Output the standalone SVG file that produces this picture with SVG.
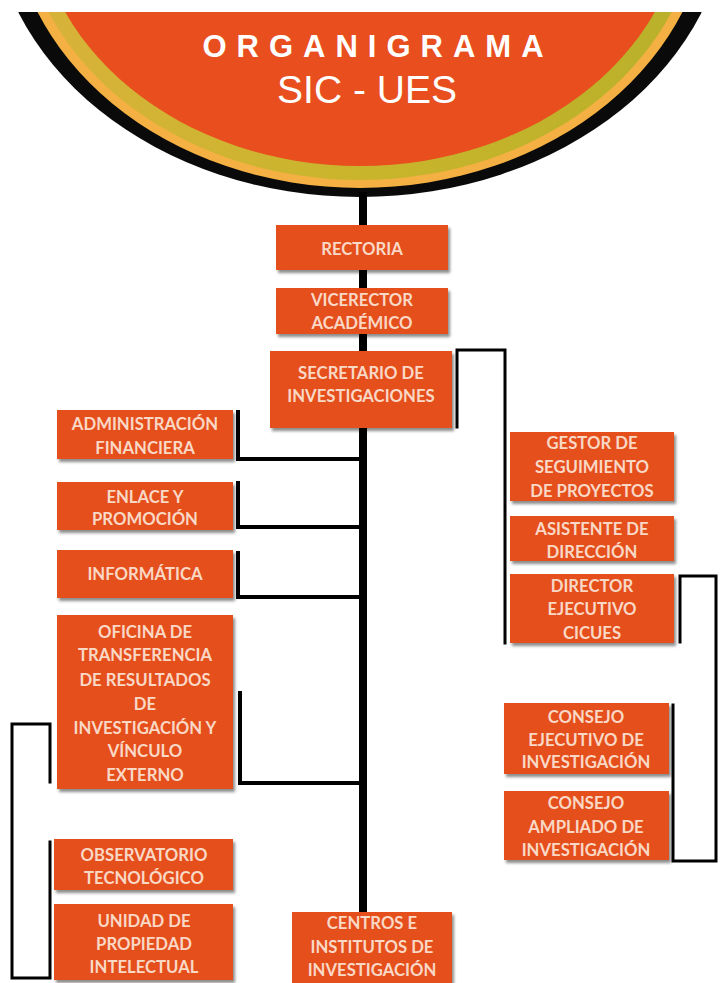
<svg xmlns="http://www.w3.org/2000/svg" width="720" height="983" viewBox="0 0 720 983">
<defs>
<clipPath id="clipTop"><rect x="0" y="12" width="720" height="200"/></clipPath>
<filter id="sh" x="-10%" y="-10%" width="125%" height="130%">
<feDropShadow dx="2" dy="3" stdDeviation="1.6" flood-color="#000" flood-opacity="0.45"/>
</filter>
<linearGradient id="olive" x1="0" y1="0" x2="1" y2="0">
<stop offset="0" stop-color="#D9B23A"/><stop offset="0.5" stop-color="#C9B52C"/><stop offset="1" stop-color="#B9B02A"/>
</linearGradient>
</defs>
<style>
.box{fill:#E5501E;filter:url(#sh)}
.t{font-family:Lato,"Open Sans","Liberation Sans",sans-serif;font-weight:bold;font-size:16.7px;fill:#F9D8C6;text-anchor:middle}
.ln{stroke:#000;fill:none;stroke-linecap:square}
</style>
<rect width="720" height="983" fill="#fff"/>
<g id="header" clip-path="url(#clipTop)">
<ellipse cx="360" cy="-100" rx="369" ry="297" fill="#0a0a0a"/>
<ellipse cx="360" cy="-100" rx="350" ry="288" fill="#F4B042"/>
<ellipse cx="360" cy="-100" rx="340" ry="280" fill="url(#olive)"/>
<ellipse cx="360" cy="-100" rx="325" ry="266" fill="#E84E1E"/>
<text x="378" y="57" font-family="'Liberation Sans',Arial,sans-serif" font-weight="bold" font-size="31" letter-spacing="10" fill="#fff" text-anchor="middle">ORGANIGRAMA</text>
<text x="367" y="103" font-family="'Liberation Sans',Arial,sans-serif" font-size="39" fill="#fff" text-anchor="middle">SIC - UES</text>
</g>
<g id="connectors">
<line class="ln" x1="363" y1="196" x2="363" y2="910" stroke-width="8" stroke-linecap="butt"/>
<polyline class="ln" stroke-width="3" points="457,427 457,350 505,350 505,643"/>
<polyline class="ln" stroke-width="4" points="238,412 238,459 359,459"/>
<polyline class="ln" stroke-width="4" points="238,483 238,527 359,527"/>
<polyline class="ln" stroke-width="4" points="238,553 238,597 359,597"/>
<polyline class="ln" stroke-width="4" points="240,693 240,783 359,783"/>
<polyline class="ln" stroke-width="3" points="50,782 50,724 12,724 12,978 50,978 50,842"/>
<polyline class="ln" stroke-width="3" points="680,642 680,576 716,576 716,861 673,861 673,705"/>
</g>
<g id="rectoria"><rect class="box" x="276" y="225" width="172" height="45"/><text class="t" x="362" y="255" font-size="19">RECTORIA</text></g>
<g id="vicerector"><rect class="box" x="276" y="288" width="172" height="46"/><text class="t" x="362" y="306">VICERECTOR</text><text class="t" x="362" y="329">ACADÉMICO</text></g>
<g id="secretario"><rect class="box" x="270" y="351" width="182" height="77"/><text class="t" x="361" y="379">SECRETARIO DE</text><text class="t" x="361" y="402">INVESTIGACIONES</text></g>
<g id="administracion"><rect class="box" x="57" y="410" width="176" height="49"/><text class="t" x="145" y="430">ADMINISTRACIÓN</text><text class="t" x="145" y="454">FINANCIERA</text></g>
<g id="enlace"><rect class="box" x="57" y="482" width="176" height="48"/><text class="t" x="145" y="503">ENLACE Y</text><text class="t" x="145" y="525">PROMOCIÓN</text></g>
<g id="informatica"><rect class="box" x="57" y="550" width="176" height="48"/><text class="t" x="145" y="580">INFORMÁTICA</text></g>
<g id="oficina"><rect class="box" x="57" y="615" width="176" height="174"/>
<text class="t" x="145" y="638">OFICINA DE</text><text class="t" x="145" y="661">TRANSFERENCIA</text><text class="t" x="145" y="686">DE RESULTADOS</text><text class="t" x="145" y="710">DE</text><text class="t" x="145" y="734">INVESTIGACIÓN Y</text><text class="t" x="145" y="757">VÍNCULO</text><text class="t" x="145" y="781">EXTERNO</text></g>
<g id="observatorio"><rect class="box" x="54" y="839" width="179" height="51"/><text class="t" x="144" y="861">OBSERVATORIO</text><text class="t" x="144" y="884">TECNOLÓGICO</text></g>
<g id="unidad"><rect class="box" x="54" y="904" width="179" height="76"/><text class="t" x="144" y="927">UNIDAD DE</text><text class="t" x="144" y="950">PROPIEDAD</text><text class="t" x="144" y="973">INTELECTUAL</text></g>
<g id="centros"><rect class="box" x="292" y="912" width="160" height="75"/><text class="t" x="372" y="929">CENTROS E</text><text class="t" x="372" y="953">INSTITUTOS DE</text><text class="t" x="372" y="976">INVESTIGACIÓN</text></g>
<g id="gestor"><rect class="box" x="510" y="432" width="164" height="69"/><text class="t" x="592" y="449">GESTOR DE</text><text class="t" x="592" y="473">SEGUIMIENTO</text><text class="t" x="592" y="497">DE PROYECTOS</text></g>
<g id="asistente"><rect class="box" x="510" y="516" width="164" height="45"/><text class="t" x="592" y="535">ASISTENTE DE</text><text class="t" x="592" y="558">DIRECCIÓN</text></g>
<g id="director"><rect class="box" x="510" y="574" width="164" height="69"/><text class="t" x="592" y="592">DIRECTOR</text><text class="t" x="592" y="615">EJECUTIVO</text><text class="t" x="592" y="639">CICUES</text></g>
<g id="consejo-ejecutivo"><rect class="box" x="504" y="703" width="165" height="71"/><text class="t" x="586" y="723">CONSEJO</text><text class="t" x="586" y="746">EJECUTIVO DE</text><text class="t" x="586" y="768">INVESTIGACIÓN</text></g>
<g id="consejo-ampliado"><rect class="box" x="504" y="791" width="165" height="69"/><text class="t" x="586" y="809">CONSEJO</text><text class="t" x="586" y="833">AMPLIADO DE</text><text class="t" x="586" y="856">INVESTIGACIÓN</text></g>
</svg>
